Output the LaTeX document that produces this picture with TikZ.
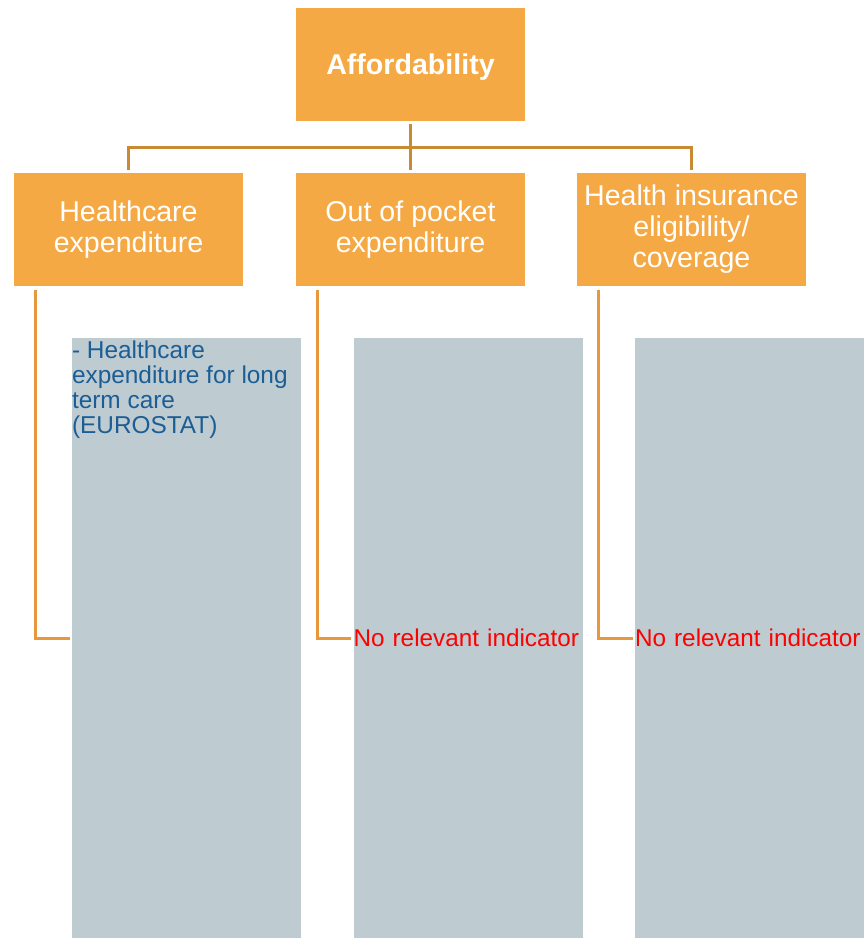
\documentclass[tikz,border=0pt]{standalone}
\usepackage{fontspec}
\setmainfont{Liberation Sans}
\usetikzlibrary{positioning}
\definecolor{boxorange}{HTML}{F5A944}
\definecolor{boxgray}{HTML}{BECBD0}
\definecolor{treebrown}{HTML}{C98A34}
\definecolor{linkorange}{HTML}{E8983C}
\definecolor{noteblue}{HTML}{1B5E96}
\begin{document}
\begin{tikzpicture}[
			x=1pt, y=-1pt,
			topic/.style={rectangle,fill=boxorange,text=white,inner sep=0pt,
			minimum width=229pt,minimum height=113pt,align=center,
			font=\fontsize{28.6}{31}\selectfont},
			indicator/.style={rectangle,fill=boxgray,inner sep=0pt,
			minimum width=229pt,minimum height=600pt,text width=229pt,align=left,
			font=\fontsize{24.3}{25}\selectfont},
			note/.style={inner xsep=0pt,inner ysep=3pt,text=noteblue,align=left,
			font=\fontsize{24.4}{25}\selectfont},
			tree/.style={draw=treebrown,line width=3pt},
			link/.style={draw=linkorange,line width=3pt}
			]
			\useasboundingbox (0,0) rectangle (865,938);
			\node[topic] (afford) at (410.5,64.5)
				{\raisebox{0pt}[\dimexpr\height+6pt\relax][\depth]{\textbf{Affordability}}};
			\node[topic] (hce) at (128.5,229.5) {Healthcare\\expenditure};
			\node[topic] (oop) at (410.5,229.5) {Out of pocket\\expenditure};
			\node[topic] (hie) at (691.5,229.5) {Health\ insurance\\eligibility/\\coverage};
			\coordinate (bus) at (410.5,147);
			\draw[tree] ([yshift=-3pt]afford.south) -- ([yshift=3pt]oop.north);
			\draw[tree] ([yshift=3pt]hce.north) |- (bus) -| ([yshift=3pt]hie.north);
			\node[indicator] (ind1) at (186.5,638) {};
			\node[indicator,text=red] (ind2) at (468,638) {No relevant indicator};
			\node[indicator,text=red] (ind3) at (749.5,638) {No relevant indicator};
			\node[note,anchor=north west] (note1) at (ind1.north west)
				{- Healthcare\\expenditure for long\\term care\\(EUROSTAT)};
			\foreach \b/\i in {hce/ind1, oop/ind2, hie/ind3}
				\draw[link] ([xshift=22pt,yshift=-4pt]\b.south west) |- ([xshift=-2pt]\i.west);
		\end{tikzpicture}
\end{document}
